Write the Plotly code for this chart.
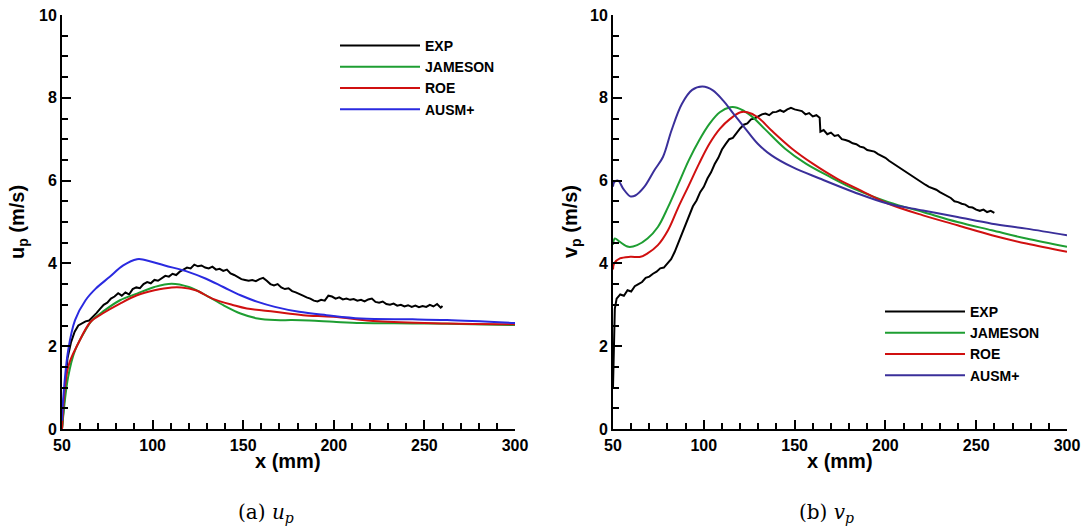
import plotly.graph_objects as go
from plotly.subplots import make_subplots

# ---------------- data: (a) u_p ----------------
exp_u_x = [50, 51, 52, 53, 55, 57, 59, 61, 63, 65, 67, 69, 71, 73, 75, 77, 79, 81, 83, 85,
           87, 89, 91, 93, 95, 97, 99, 101, 103, 105, 107, 109, 111, 113, 115, 117, 119, 121,
           123, 125, 127, 129, 131, 133, 135, 137, 139, 141, 143, 145, 147, 149, 151, 153,
           155, 157, 159, 161, 163, 165, 167, 169, 171, 173, 175, 177, 179, 181, 183, 185,
           187, 189, 191, 193, 195, 197, 199, 201, 203, 205, 207, 209, 211, 213, 215, 217,
           219, 221, 223, 225, 227, 229, 231, 233, 235, 237, 239, 241, 243, 245, 247, 249,
           251, 253, 255, 257, 259, 260]
exp_u_y = [0.0, 0.6, 1.2, 1.7, 2.1, 2.35, 2.5, 2.55, 2.6, 2.62, 2.7, 2.8, 2.9, 3.0, 3.05, 3.15,
           3.2, 3.28, 3.22, 3.3, 3.25, 3.38, 3.42, 3.4, 3.5, 3.55, 3.52, 3.6, 3.58, 3.65, 3.7,
           3.68, 3.75, 3.72, 3.8, 3.85, 3.9, 3.88, 3.97, 3.93, 3.95, 3.9, 3.88, 3.92, 3.85, 3.87,
           3.82, 3.85, 3.76, 3.72, 3.68, 3.62, 3.6, 3.58, 3.6, 3.57, 3.62, 3.65, 3.58, 3.5, 3.47,
           3.5, 3.42, 3.38, 3.4, 3.33, 3.3, 3.25, 3.22, 3.18, 3.15, 3.1, 3.08, 3.12, 3.1, 3.22,
           3.2, 3.15, 3.18, 3.13, 3.15, 3.12, 3.14, 3.1, 3.12, 3.08, 3.13, 3.15, 3.07, 3.05, 3.08,
           3.02, 3.0, 3.03, 2.98, 3.0, 2.96, 2.99, 2.95, 2.98, 2.94, 2.97, 2.95, 3.0, 2.96, 3.02,
           2.93, 2.97]

jam_u_x = [50, 53.4, 57.2, 63, 66.7, 72.4, 82, 91.4, 101, 110.5, 120, 129.5, 139, 148.5, 158,
           167.5, 177, 186.5, 199.8, 215, 243.5, 262.5, 300]
jam_u_y = [0.0, 1.26, 1.9, 2.39, 2.63, 2.83, 3.11, 3.27, 3.43, 3.51, 3.43, 3.23, 2.99, 2.79, 2.67,
           2.63, 2.63, 2.62, 2.59, 2.56, 2.55, 2.54, 2.51]

roe_u_x = [50, 53.4, 59, 65.8, 72.4, 82, 91.4, 101, 110.5, 116, 123.8, 133, 144.7, 152, 167.5,
           183, 199.8, 224.5, 262.5, 300]
roe_u_y = [0.0, 1.5, 2.07, 2.59, 2.79, 3.03, 3.23, 3.35, 3.42, 3.42, 3.35, 3.15, 2.99, 2.91, 2.83,
           2.75, 2.71, 2.6, 2.55, 2.53]

aus_u_x = [50, 50.6, 53.4, 57.2, 63, 68.6, 76.2, 83.8, 91.4, 95.2, 106.7, 120, 129.5, 139, 148.5,
           158, 167.5, 180.8, 196, 215, 243.5, 262.5, 300]
aus_u_y = [0.2, 0.7, 1.9, 2.63, 3.11, 3.39, 3.67, 3.95, 4.1, 4.09, 3.95, 3.79, 3.63, 3.43, 3.23,
           3.07, 2.95, 2.83, 2.75, 2.67, 2.65, 2.63, 2.56]

# ---------------- data: (b) v_p ----------------
exp_v_x = [50, 50.5, 51, 52, 54, 56, 58, 60, 62, 64, 66, 68, 70, 72, 74, 76, 78, 80, 82, 84, 86,
           88, 90, 92, 94, 96, 98, 100, 102, 104, 106, 108, 110, 112, 114, 116, 118, 120, 122,
           124, 126, 128, 130, 132, 134, 136, 138, 140, 142, 144, 146, 148, 150, 152, 154, 156,
           158, 160, 162, 163.8, 164.2, 166, 168, 170, 172, 174, 176, 178, 180, 182, 184, 186,
           188, 190, 192, 194, 196, 198, 200, 202, 204, 206, 208, 210, 212, 214, 216, 218, 220,
           222, 224, 226, 228, 230, 232, 234, 236, 238, 240, 242, 244, 246, 248, 250, 252, 254,
           256, 258, 260]
exp_v_y = [1.0, 2.0, 2.9, 3.15, 3.25, 3.22, 3.35, 3.32, 3.45, 3.5, 3.55, 3.65, 3.68, 3.75, 3.8,
           3.88, 3.9, 4.0, 4.1, 4.28, 4.5, 4.72, 4.95, 5.18, 5.38, 5.52, 5.72, 5.85, 6.05, 6.2,
           6.4, 6.55, 6.75, 6.88, 7.0, 7.03, 7.15, 7.26, 7.35, 7.38, 7.48, 7.5, 7.55, 7.6, 7.62,
           7.58, 7.65, 7.66, 7.7, 7.66, 7.72, 7.76, 7.72, 7.7, 7.68, 7.6, 7.63, 7.55, 7.58, 7.52,
           7.18, 7.22, 7.12, 7.16, 7.08, 7.1, 7.0, 6.98, 6.95, 6.9, 6.88, 6.82, 6.8, 6.74, 6.72,
           6.7, 6.64, 6.6, 6.55, 6.48, 6.42, 6.38, 6.3, 6.25, 6.2, 6.12, 6.08, 6.0, 5.95, 5.9,
           5.85, 5.82, 5.78, 5.72, 5.68, 5.62, 5.58, 5.5, 5.48, 5.44, 5.42, 5.36, 5.35, 5.3, 5.27,
           5.3, 5.24, 5.27, 5.22]

jam_v_x = [50, 51, 53.8, 58.5, 63.3, 69, 74.7, 80.3, 86, 91.7, 97.4, 103.1, 108.8, 114.5, 118.3,
           125.9, 133.5, 144.8, 156.2, 169.5, 182.8, 201.7, 220.7, 239.7, 258.6, 277.6, 300]
jam_v_y = [4.45, 4.6, 4.52, 4.4, 4.44, 4.6, 4.88, 5.36, 5.92, 6.49, 6.97, 7.37, 7.65, 7.77, 7.76,
           7.57, 7.25, 6.77, 6.41, 6.09, 5.8, 5.48, 5.24, 5.0, 4.8, 4.6, 4.4]

roe_v_x = [50, 50.6, 53.8, 59.5, 65.2, 69, 74.7, 80.3, 86, 91.7, 97.4, 103.1, 108.8, 114.5, 120.2,
           124, 129.7, 137.3, 148.6, 160, 173.3, 186.6, 201.7, 220.7, 239.7, 258.6, 277.6, 300]
roe_v_y = [3.85, 4.0, 4.12, 4.16, 4.16, 4.24, 4.44, 4.8, 5.36, 5.88, 6.41, 6.89, 7.25, 7.49, 7.65,
           7.65, 7.53, 7.21, 6.77, 6.41, 6.05, 5.76, 5.44, 5.16, 4.92, 4.68, 4.48, 4.28]

aus_v_x = [50, 50.6, 52.8, 55.7, 59.5, 62.3, 67.1, 72.8, 77.5, 82.2, 87.9, 93.6, 99.3, 105, 110.7,
           116.4, 122.1, 129.7, 137.3, 148.6, 163.8, 182.8, 201.7, 220.7, 239.7, 258.6, 277.6, 300]
aus_v_y = [5.85, 5.96, 6.0, 5.8, 5.62, 5.64, 5.84, 6.25, 6.57, 7.21, 7.85, 8.19, 8.27, 8.18, 7.93,
           7.61, 7.3, 6.89, 6.61, 6.33, 6.05, 5.72, 5.44, 5.28, 5.12, 4.96, 4.84, 4.68]

names = ["EXP", "JAMESON", "ROE", "AUSM+"]
colors_a = ["#000000", "#1e9e32", "#d01010", "#2a2ae0"]
colors_b = ["#000000", "#1e9e32", "#d01010", "#3a2f9a"]

x_ticks = [50, 100, 150, 200, 250, 300]
y_ticks = [0, 2, 4, 6, 8, 10]
x_minor = [60, 70, 80, 90, 110, 120, 130, 140, 160, 170, 180, 190, 210, 220, 230, 240,
           260, 270, 280, 290]
y_minor = [0.5, 1, 1.5, 2.5, 3, 3.5, 4.5, 5, 5.5, 6.5, 7, 7.5, 8.5, 9, 9.5]

fig = make_subplots(rows=1, cols=2)

series_a = [(exp_u_x, exp_u_y), (jam_u_x, jam_u_y), (roe_u_x, roe_u_y), (aus_u_x, aus_u_y)]
series_b = [(exp_v_x, exp_v_y), (jam_v_x, jam_v_y), (roe_v_x, roe_v_y), (aus_v_x, aus_v_y)]

for i, (xs, ys) in enumerate(series_a):
    fig.add_trace(go.Scatter(x=xs, y=ys, mode="lines", name=names[i],
                             line=dict(color=colors_a[i], width=2,
                                       shape="linear" if i == 0 else "spline"),
                             legend="legend"), row=1, col=1)
for i, (xs, ys) in enumerate(series_b):
    fig.add_trace(go.Scatter(x=xs, y=ys, mode="lines", name=names[i],
                             line=dict(color=colors_b[i], width=2,
                                       shape="linear" if i == 0 else "spline"),
                             legend="legend2"), row=1, col=2)

W, H = 1084, 528
tickfont = dict(family="Liberation Sans, Arial, sans-serif", size=16, color="black", weight="bold")
axis_common = dict(showgrid=False, zeroline=False, showline=True, linecolor="black", linewidth=2,
                   ticks="inside", ticklen=9, tickwidth=2, tickcolor="black", tickfont=tickfont,
                   mirror=False, automargin=False, layer="above traces")

fig.update_xaxes(**axis_common, range=[50, 300], tickmode="array", tickvals=x_ticks,
                 ticklabelstandoff=1,
                 minor=dict(ticks="inside", ticklen=6, tickwidth=1.5, tickcolor="black",
                            tickmode="array", tickvals=x_minor, showgrid=False))
fig.update_yaxes(**axis_common, range=[0, 10], tickmode="array", tickvals=y_ticks,
                 minor=dict(ticks="inside", ticklen=6, tickwidth=1.5, tickcolor="black",
                            tickmode="array", tickvals=y_minor, showgrid=False))

ytop, ybot = 1 - 15 / H, 1 - 429 / H
fig.update_layout(
    xaxis=dict(domain=[62 / W, 515 / W]),
    xaxis2=dict(domain=[613 / W, 1067 / W]),
    yaxis=dict(domain=[ybot, ytop]),
    yaxis2=dict(domain=[ybot, ytop]),
)

legfont = dict(family="Liberation Sans, Arial, sans-serif", size=14, color="black", weight="bold")
fig.update_layout(
    width=W, height=H, margin=dict(l=0, r=0, t=0, b=0, autoexpand=False),
    paper_bgcolor="white", plot_bgcolor="white", showlegend=True,
    legend=dict(x=335 / W, y=1 - 30 / H, xanchor="left", yanchor="top", font=legfont,
                itemwidth=80, bgcolor="rgba(0,0,0,0)", tracegroupgap=0),
    legend2=dict(x=880 / W, y=1 - 296 / H, xanchor="left", yanchor="top", font=legfont,
                 itemwidth=80, bgcolor="rgba(0,0,0,0)", tracegroupgap=0),
)

titlefont = dict(family="Liberation Sans, Arial, sans-serif", size=20, color="black", weight="bold")
capfont = dict(family="DejaVu Serif, Liberation Serif, serif", size=20, color="black")
annots = [
    dict(text="x (mm)", x=288 / W, y=1 - 461 / H),
    dict(text="x (mm)", x=840 / W, y=1 - 461 / H),
    dict(text="u<sub>p</sub> (m/s)", x=19 / W, y=1 - 222 / H, textangle=-90),
    dict(text="v<sub>p</sub> (m/s)", x=572 / W, y=1 - 222 / H, textangle=-90),
]
for a in annots:
    fig.add_annotation(xref="paper", yref="paper", showarrow=False, font=titlefont,
                       xanchor="center", yanchor="middle", **a)
fig.add_annotation(xref="paper", yref="paper", showarrow=False, font=capfont,
                   text="(a) <i>u<sub>p</sub></i>", x=266 / W, y=1 - 513 / H,
                   xanchor="center", yanchor="middle")
fig.add_annotation(xref="paper", yref="paper", showarrow=False, font=capfont,
                   text="(b) <i>v<sub>p</sub></i>", x=826 / W, y=1 - 513 / H,
                   xanchor="center", yanchor="middle")

fig.write_html("out.html", config={"displayModeBar": False},
               post_script="document.body.style.margin='0';document.body.style.overflow='hidden';")
